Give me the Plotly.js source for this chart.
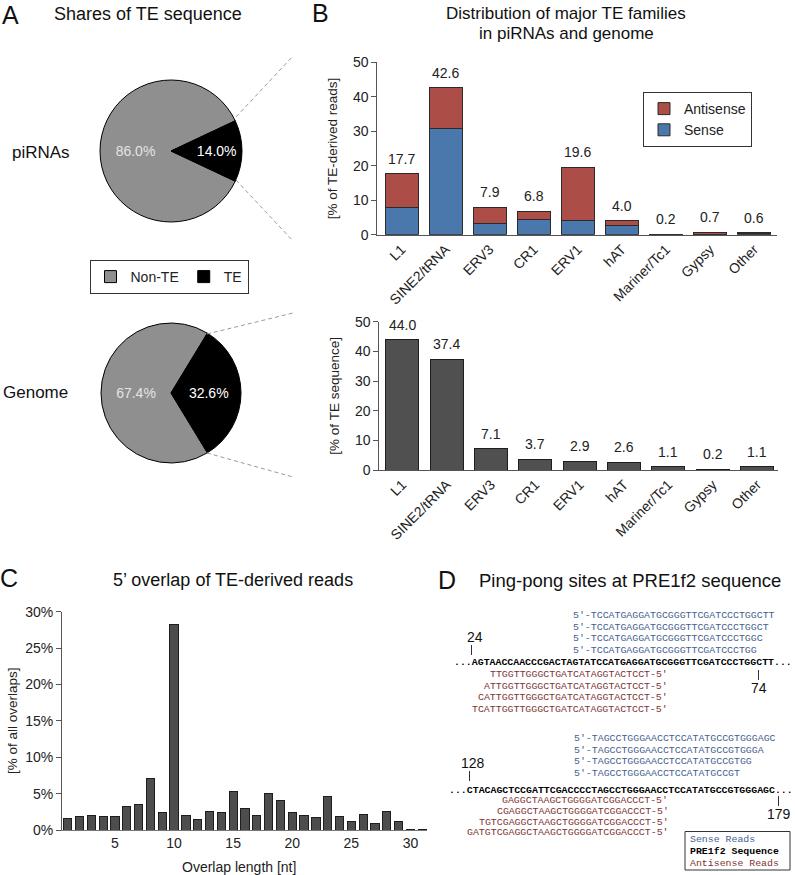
<!DOCTYPE html>
<html><head><meta charset="utf-8">
<script src="https://cdn.plot.ly/plotly-3.0.1.min.js"></script>
<style>html,body{margin:0;padding:0;background:#fff}#chart{width:795px;height:875px}</style>
</head><body><div id="chart"></div><script>
// ---------------- data ----------------
const pieLabels = ['Non-TE', 'TE'];
const piRNAShares = [86.0, 14.0];
const genomeShares = [67.4, 32.6];

const teFamilies = ['L1', 'SINE2/tRNA', 'ERV3', 'CR1', 'ERV1', 'hAT', 'Mariner/Tc1', 'Gypsy', 'Other'];
const piSense     = [7.9, 30.7, 3.3, 4.4, 4.2, 2.7, 0.1, 0.1, 0.3];
const piAntisense = [9.8, 11.9, 4.6, 2.4, 15.4, 1.3, 0.1, 0.6, 0.3];
const genomeTE    = [44.0, 37.4, 7.1, 3.7, 2.9, 2.6, 1.1, 0.2, 1.1];

const overlapLength = [1,2,3,4,5,6,7,8,9,10,11,12,13,14,15,16,17,18,19,20,21,22,23,24,25,26,27,28,29,30,31];
const overlapPct = [1.6,1.9,1.95,1.8,1.9,3.2,3.5,7.1,2.4,28.2,2.05,1.45,2.6,2.45,5.3,2.9,2.0,5.0,4.05,2.4,2.0,1.7,4.6,1.8,1.2,2.15,0.95,2.5,1.2,0.1,0.05];
const overlapTicks = [5,10,15,20,25,30];
const overlapPctTicks = [0,5,10,15,20,25,30];
const teTicks = [0,10,20,30,40,50];

const seq1 = 'AGTAACCAACCCGACTAGTATCCATGAGGATGCGGGTTCGATCCCTGGCTT';
const seq1Start = 24, seq1End = 74;
const seq1Sense = ["5'-TCCATGAGGATGCGGGTTCGATCCCTGGCTT","5'-TCCATGAGGATGCGGGTTCGATCCCTGGCT","5'-TCCATGAGGATGCGGGTTCGATCCCTGGC","5'-TCCATGAGGATGCGGGTTCGATCCCTGG"];
const seq1Antisense = ["TTGGTTGGGCTGATCATAGGTACTCCT-5'","ATTGGTTGGGCTGATCATAGGTACTCCT-5'","CATTGGTTGGGCTGATCATAGGTACTCCT-5'","TCATTGGTTGGGCTGATCATAGGTACTCCT-5'"];
const seq2 = 'CTACAGCTCCGATTCGACCCCTAGCCTGGGAACCTCCATATGCCGTGGGAGC';
const seq2Start = 128, seq2End = 179;
const seq2Sense = ["5'-TAGCCTGGGAACCTCCATATGCCGTGGGAGC","5'-TAGCCTGGGAACCTCCATATGCCGTGGGA","5'-TAGCCTGGGAACCTCCATATGCCGTGG","5'-TAGCCTGGGAACCTCCATATGCCGT"];
const seq2Antisense = ["GAGGCTAAGCTGGGGATCGGACCCT-5'","CGAGGCTAAGCTGGGGATCGGACCCT-5'","TGTCGAGGCTAAGCTGGGGATCGGACCCT-5'","GATGTCGAGGCTAAGCTGGGGATCGGACCCT-5'"];

// ---------------- helpers ----------------
const W = 795, H = 875;
const X = px => px / W, Y = py => 1 - py / H;
const SANS = 'Liberation Sans, Arial, sans-serif';
const MONO = 'Liberation Mono, Courier New, monospace';
const MONO_SIZE = 9.9, CW = 0.6 * MONO_SIZE;
const SENSE_COL = '#44608f', ANTI_COL = '#7d3333';
const comp = s => s.replace(/[ACGT]/g, c => ({A:'T',T:'A',G:'C',C:'G'})[c]);

const annotations = [];
function txt(text, px, py, o) {
  o = o || {};
  annotations.push(Object.assign({
    xref: 'paper', yref: 'paper', x: X(px), y: Y(py), text: text, showarrow: false,
    xanchor: 'center', yanchor: 'middle', borderpad: 0,
    font: {family: SANS, size: 14, color: '#222'}
  }, o));
}

// ---------------- traces ----------------
const pieCommon = {
  type: 'pie', labels: pieLabels, sort: false, direction: 'clockwise',
  marker: {colors: ['#8f8f8f', '#000000'], line: {color: '#000', width: 1}},
  texttemplate: '%{value:.1f}%', textposition: 'inside', insidetextorientation: 'horizontal',
  insidetextfont: {family: SANS, size: 14, color: ['#e4e4e4', '#ffffff']},
  hoverinfo: 'skip', legend: 'legend2', showlegend: true
};
const traces = [
  Object.assign({}, pieCommon, {values: piRNAShares, rotation: 90 + piRNAShares[1] * 1.8,
    domain: {x: [X(100), X(242)], y: [Y(222), Y(80)]}}),
  Object.assign({}, pieCommon, {values: genomeShares, rotation: 90 + genomeShares[1] * 1.8,
    domain: {x: [X(101), X(241)], y: [Y(463), Y(323)]}}),
  {type: 'bar', x: teFamilies, y: piSense, name: 'Sense', xaxis: 'x', yaxis: 'y', width: 0.75,
   marker: {color: '#4a78ad', line: {color: '#2b2b2b', width: 1}}, hoverinfo: 'skip', legend: 'legend'},
  {type: 'bar', x: teFamilies, y: piAntisense, name: 'Antisense', xaxis: 'x', yaxis: 'y', width: 0.75,
   marker: {color: '#ad4d47', line: {color: '#2b2b2b', width: 1}}, hoverinfo: 'skip', legend: 'legend'},
  {type: 'bar', x: teFamilies, y: genomeTE, xaxis: 'x2', yaxis: 'y2', width: 0.75, showlegend: false,
   marker: {color: '#505050', line: {color: '#1e1e1e', width: 1}}, hoverinfo: 'skip'},
  {type: 'bar', x: overlapLength, y: overlapPct, xaxis: 'x3', yaxis: 'y3', width: 0.7, showlegend: false,
   marker: {color: '#4d4d4d', line: {color: '#1e1e1e', width: 1}}, hoverinfo: 'skip'}
];

// bar totals
teFamilies.forEach((f, i) => {
  const tot = piSense[i] + piAntisense[i];
  annotations.push({xref: 'x', yref: 'y', x: f, y: tot, text: tot.toFixed(1), showarrow: false,
    yanchor: 'bottom', yshift: 5, font: {family: SANS, size: 14, color: '#222'}});
  annotations.push({xref: 'x2', yref: 'y2', x: f, y: genomeTE[i], text: genomeTE[i].toFixed(1), showarrow: false,
    yanchor: 'bottom', yshift: 5, font: {family: SANS, size: 14, color: '#222'}});
});

// ---------------- panel texts ----------------
txt('A', 10, 15, {font: {family: SANS, size: 25, color: '#111'}});
txt('Shares of TE sequence', 148, 14, {font: {family: SANS, size: 18, color: '#111'}});
txt('piRNAs', 40.5, 152, {font: {family: SANS, size: 17, color: '#111'}});
txt('Genome', 35.5, 393, {font: {family: SANS, size: 17, color: '#111'}});
txt('B', 320.5, 13, {font: {family: SANS, size: 25, color: '#111'}});
txt('Distribution of major TE families', 566, 13, {font: {family: SANS, size: 17, color: '#111'}});
txt('in piRNAs and genome', 566, 34, {font: {family: SANS, size: 17, color: '#111'}});
txt('C', 9, 578, {font: {family: SANS, size: 25, color: '#111'}});
txt('5\u2019 overlap of TE-derived reads', 233, 580, {font: {family: SANS, size: 18, color: '#111'}});
txt('Overlap length [nt]', 239, 867, {font: {family: SANS, size: 14, color: '#222'}});
txt('D', 447, 580, {font: {family: SANS, size: 25, color: '#111'}});
txt('Ping-pong sites at PRE1f2 sequence', 478, 580, {xanchor: 'left', font: {family: SANS, size: 18.5, color: '#111'}});

// ---------------- panel D sequences ----------------
function block(seq, startPx, mainY, senseReads, antiReads, senseY, antiY) {
  const full = '...' + seq + '...';
  const mono = (t, pos, py, col, bold) => txt(bold ? '<b>' + t + '</b>' : t, startPx + pos * CW, py,
    {xanchor: 'left', font: {family: MONO, size: MONO_SIZE, color: col}});
  senseReads.forEach((r, k) => mono(r, full.indexOf(r.slice(3)) - 3, senseY[k], SENSE_COL, false));
  mono(full, 0, mainY, '#000', true);
  antiReads.forEach((r, k) => mono(r, full.indexOf(comp(r.slice(0, -3))), antiY[k], ANTI_COL, false));
}
block(seq1, 453, 662, seq1Sense, seq1Antisense, [615.5, 627, 638.5, 650], [674.5, 686, 697.5, 709]);
block(seq2, 448, 790, seq2Sense, seq2Antisense, [738.5, 750, 761.5, 773], [800.5, 811, 822, 832.5]);

const numFont = {family: SANS, size: 14, color: '#111'};
txt(String(seq1Start), 475, 637, {font: numFont});
txt(String(seq1End), 758.5, 688, {font: numFont});
txt(String(seq2Start), 472.5, 763, {font: numFont});
txt(String(seq2End), 778.5, 814, {font: numFont});

// D legend
txt('Sense Reads', 689, 839, {xanchor: 'left', font: {family: MONO, size: MONO_SIZE, color: SENSE_COL}});
txt('<b>PRE1f2 Sequence</b>', 689, 851, {xanchor: 'left', font: {family: MONO, size: MONO_SIZE, color: '#000'}});
txt('Antisense Reads', 689, 863, {xanchor: 'left', font: {family: MONO, size: MONO_SIZE, color: ANTI_COL}});

const shapes = [
  {type: 'rect', xref: 'paper', yref: 'paper', x0: X(685), x1: X(790), y0: Y(870), y1: Y(831.5),
   line: {color: '#333', width: 1}, fillcolor: 'rgba(0,0,0,0)'},
];
// position tick marks in panel D
const tickLine = {color: '#333', width: 1};
[[471.5, 645, 655], [758.5, 670, 680], [469.5, 771, 781], [778.5, 796, 806]].forEach(t => {
  shapes.push({type: 'line', xref: 'paper', yref: 'paper', x0: X(t[0]), x1: X(t[0]), y0: Y(t[1]), y1: Y(t[2]), line: tickLine});
});
const dash = {color: '#9a9a9a', width: 1, dash: '4px,3px'};
[[236, 117, 293, 56], [236, 180, 293, 241], [207, 334, 293, 313], [207, 453, 293, 477]].forEach(s => {
  shapes.push({type: 'line', xref: 'paper', yref: 'paper', x0: X(s[0]), y0: Y(s[1]), x1: X(s[2]), y1: Y(s[3]), line: dash});
});

// ---------------- axes ----------------
const axBase = {showline: true, linecolor: '#555', linewidth: 1, showgrid: false, zeroline: false,
  automargin: false, fixedrange: true, tickfont: {family: SANS, size: 14, color: '#222'}};
const yBase = Object.assign({}, axBase, {ticks: 'outside', ticklen: 5, tickcolor: '#555', tickwidth: 1});
const xCat = Object.assign({}, axBase, {ticks: '', tickangle: -45, tickfont: {family: SANS, size: 14, color: '#222'}});

const layout = {
  width: W, height: H, margin: {l: 0, r: 0, t: 0, b: 0},
  paper_bgcolor: '#fff', plot_bgcolor: 'rgba(0,0,0,0)',
  font: {family: SANS, size: 14, color: '#222'},
  barmode: 'stack',
  xaxis: Object.assign({}, xCat, {domain: [X(377.3), X(777)], range: [-0.55, 8.52], anchor: 'y'}),
  yaxis: Object.assign({}, yBase, {domain: [Y(234.7), Y(62.3)], range: [0, 50], anchor: 'x',
    tickmode: 'array', tickvals: teTicks, ticktext: teTicks.map(String),
    title: {text: '[% of TE-derived reads]', font: {family: SANS, size: 13.5, color: '#222'}, standoff: 12}}),
  xaxis2: Object.assign({}, xCat, {domain: [X(379.3), X(778.3)], range: [-0.52, 8.48], anchor: 'y2'}),
  yaxis2: Object.assign({}, yBase, {domain: [Y(470), Y(321.7)], range: [0, 50], anchor: 'x2',
    tickmode: 'array', tickvals: teTicks, ticktext: teTicks.map(String),
    title: {text: '[% of TE sequence]', font: {family: SANS, size: 13.5, color: '#222'}, standoff: 12}}),
  xaxis3: Object.assign({}, axBase, {domain: [X(62), X(427)], range: [0.52, 31.4], anchor: 'y3',
    ticks: '', tickmode: 'array', tickvals: overlapTicks, ticktext: overlapTicks.map(String), linecolor: '#777'}),
  yaxis3: Object.assign({}, yBase, {domain: [Y(830), Y(611.7)], range: [0, 30], anchor: 'x3',
    tickmode: 'array', tickvals: overlapPctTicks, ticktext: overlapPctTicks.map(v => v + '%'),
    title: {text: '[% of all overlaps]', font: {family: SANS, size: 13.5, color: '#222'}, standoff: 4}}),
  legend: {x: X(643), y: Y(92), xanchor: 'left', yanchor: 'top', traceorder: 'reversed',
    bordercolor: '#333', borderwidth: 1, bgcolor: '#fff', font: {family: SANS, size: 14, color: '#222'}},
  legend2: {orientation: 'h', x: X(169), y: Y(260), xanchor: 'center', yanchor: 'top',
    bordercolor: '#333', borderwidth: 1, bgcolor: '#fff', font: {family: SANS, size: 14, color: '#222'}},
  annotations: annotations,
  shapes: shapes
};

Plotly.newPlot('chart', traces, layout, {displayModeBar: false, staticPlot: true});
</script></body></html>
